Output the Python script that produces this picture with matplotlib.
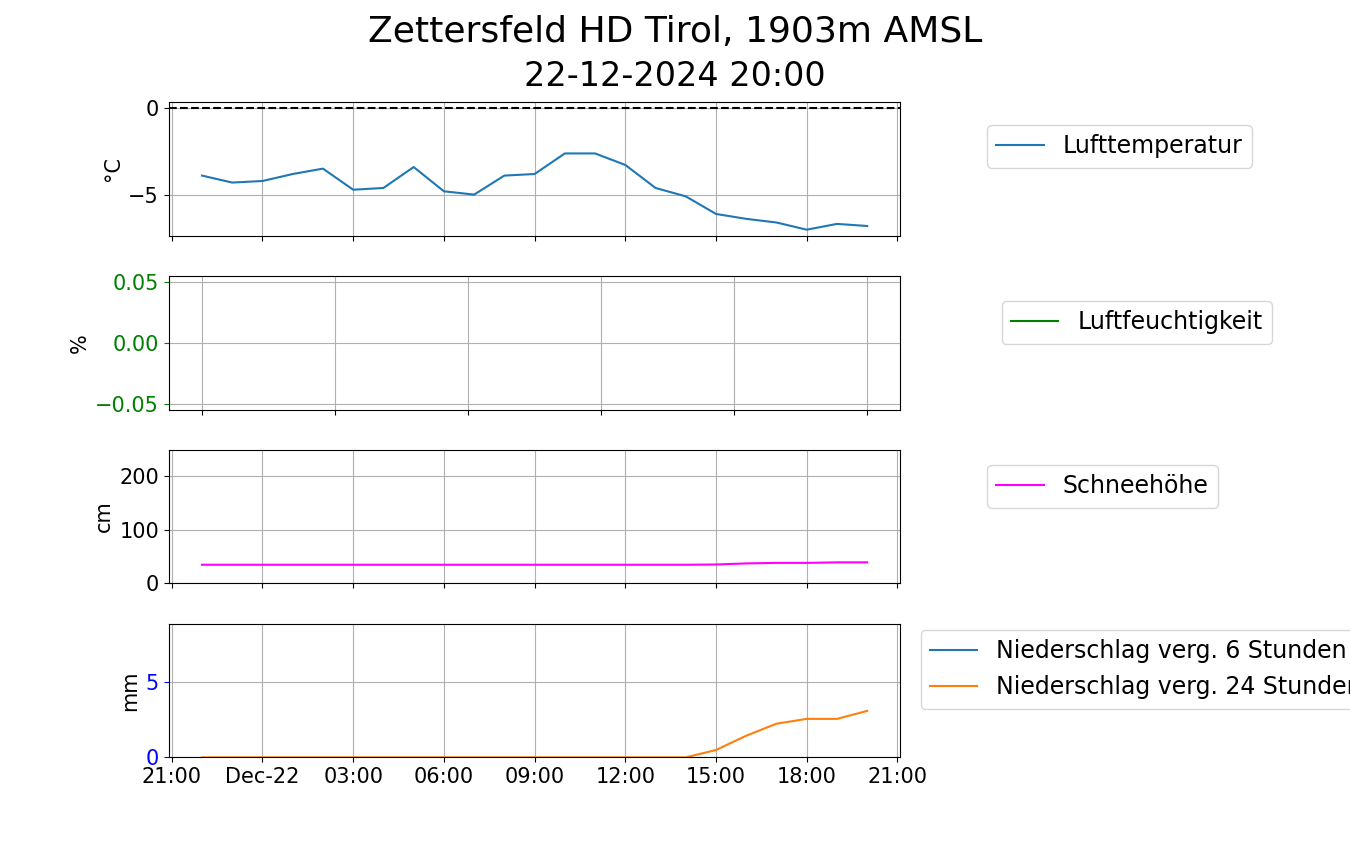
import numpy as np
import pandas as pd
import matplotlib
matplotlib.use('Agg')
import matplotlib.pyplot as plt
import matplotlib.dates as mdates
from matplotlib.ticker import FuncFormatter

font = {'size': 15}
matplotlib.rc('font', **font)

# hourly readings 21-12-2024 22:00 .. 22-12-2024 20:00
times = pd.date_range('2024-12-21 22:00', '2024-12-22 20:00', freq='h')
temp = [-3.87, -4.27, -4.18, -3.78, -3.47, -4.68, -4.58, -3.38, -4.77, -4.96,
        -3.87, -3.78, -2.60, -2.60, -3.26, -4.58, -5.06, -6.07, -6.35, -6.56,
        -6.97, -6.64, -6.76]
humid = [np.nan]*23
snow = [35, 35, 35, 35, 35, 35, 35, 35, 35, 35, 35, 35, 35, 35, 35, 35, 35,
        35.5, 37.5, 38.5, 38.5, 39.5, 39.5]
prec6 = [np.nan]*23
prec24 = [0, 0, 0, 0, 0, 0, 0, 0, 0, 0, 0, 0, 0, 0, 0, 0, 0,
          0.49, 1.44, 2.24, 2.56, 2.56, 3.09]

title1 = 'Zettersfeld HD Tirol, 1903m AMSL'
title2 = '22-12-2024 20:00'


def fmt_date(x, pos=None):
    d = mdates.num2date(x)
    if d.hour == 0 and d.minute == 0:
        return d.strftime('%b-%d')
    return d.strftime('%H:%M')


fig = plt.figure(figsize=(13.5, 8.5), dpi=100)
gs = fig.add_gridspec(4, 1, left=0.125, right=0.667, top=0.88, bottom=0.109,
                      hspace=0.3)
ax1 = fig.add_subplot(gs[0])
ax2 = fig.add_subplot(gs[1])
ax3 = fig.add_subplot(gs[2], sharex=ax1)
ax4 = fig.add_subplot(gs[3], sharex=ax1)

# temperature
ax1.plot(times, temp, color='tab:blue', label='Lufttemperatur')
ax1.axhline(0, color='black', linestyle='--')
ax1.set_ylabel('°C')
ax1.grid(True)

# humidity (no data)
ax2.plot(times, humid, color='green', label='Luftfeuchtigkeit')
span = times[-1] - times[0]
ax2.set_xlim(times[0] - span*0.05, times[-1] + span*0.05)
ax2.set_xticks(pd.date_range(times[0], times[-1], periods=6))
ax2.set_xticklabels([])
ax2.set_ylim(-0.055, 0.055)
ax2.set_yticks([-0.05, 0.0, 0.05])
ax2.yaxis.set_major_formatter(FuncFormatter(lambda v, p: ('%.2f' % v).replace('-', '\u2212')))
ax2.tick_params(axis='y', colors='green')
ax2.set_ylabel('%')
ax2.grid(True)

# snow depth
ax3.plot(times, snow, color='magenta', label='Schneehöhe')
ax3.set_ylim(0, 250)
ax3.set_ylabel('cm')
ax3.grid(True)

# precipitation
ax4.plot(times, prec6, color='tab:blue', label='Niederschlag verg. 6 Stunden')
ax4.plot(times, prec24, color='tab:orange', label='Niederschlag verg. 24 Stunden')
ax4.set_ylim(0, 8.9)
ax4.set_yticks([0, 5])
ax4.tick_params(axis='y', colors='blue')
ax4.set_ylabel('mm')
ax4.grid(True)

ax1.set_xlim(pd.Timestamp('2024-12-21 20:54'), pd.Timestamp('2024-12-22 21:06'))
ax4.xaxis.set_major_locator(mdates.HourLocator(byhour=range(0, 24, 3)))
ax4.xaxis.set_major_formatter(FuncFormatter(fmt_date))
plt.setp(ax1.get_xticklabels(), visible=False)
plt.setp(ax3.get_xticklabels(), visible=False)

leg_pos = [(ax1, 0.731, 0.853), (ax2, 0.742, 0.646), (ax3, 0.731, 0.453),
           (ax4, 0.682, 0.259)]
for ax, lx, ly in leg_pos:
    ax.legend(loc='upper left', bbox_to_anchor=(lx, ly),
              bbox_transform=fig.transFigure, borderaxespad=0, fontsize=17)

fig.text(0.5, 0.9506, title1, fontsize=26, ha='center', va='baseline')
fig.text(0.5, 0.8988, title2, fontsize=24, ha='center', va='baseline')
fig.savefig('out.png', dpi=100)
